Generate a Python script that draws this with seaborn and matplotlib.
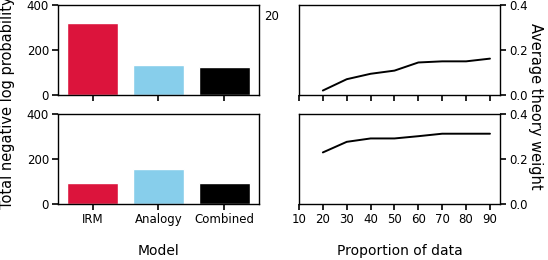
import matplotlib
matplotlib.use("Agg")
import matplotlib.pyplot as plt
import seaborn as sns
import pandas as pd

models = ["IRM", "Analogy", "Combined"]
bar_colors = ["#DC143C", "#87CEEB", "#000000"]
nll_top = [319, 135, 126]
nll_bottom = [95, 157, 95]

proportions = [20, 30, 40, 50, 60, 70, 80, 90]
weight_top = [0.022, 0.072, 0.096, 0.110, 0.146, 0.151, 0.151, 0.163]
weight_bottom = [0.230, 0.277, 0.292, 0.292, 0.302, 0.313, 0.313, 0.313]

sns.set_style("ticks")
plt.rcParams['font.family'] = ['DejaVu Sans']
plt.rcParams['xtick.labelsize'] = 8.5
plt.rcParams['ytick.labelsize'] = 8.5
plt.rcParams['text.color'] = 'black'
plt.rcParams['xtick.color'] = 'black'
plt.rcParams['ytick.color'] = 'black'
plt.rcParams['axes.edgecolor'] = 'black'

fig = plt.figure(figsize=(5.48, 2.6), dpi=100)
W = 0.3668
ax_tl = fig.add_axes([0.1058, 0.6327, W, 0.348])
ax_bl = fig.add_axes([0.1058, 0.2142, W, 0.347])
ax_tr = fig.add_axes([0.5456, 0.6327, W, 0.348])
ax_br = fig.add_axes([0.5456, 0.2142, W, 0.347])

for ax, vals in [(ax_tl, nll_top), (ax_bl, nll_bottom)]:
    df = pd.DataFrame({"Model": models, "v": vals})
    sns.barplot(data=df, x="Model", y="v", hue="Model", palette=bar_colors,
                legend=False, ax=ax, width=0.78, saturation=1)
    ax.set_ylim(0, 400)
    ax.set_yticks([0, 200, 400])
    ax.set_xlim(-0.53, 2.53)
    ax.set_xlabel("")
    ax.set_ylabel("")
ax_tl.set_xticklabels([])

for ax, vals in [(ax_tr, weight_top), (ax_br, weight_bottom)]:
    df = pd.DataFrame({"p": proportions, "w": vals})
    sns.lineplot(data=df, x="p", y="w", color="black", ax=ax, linewidth=1.4)
    ax.set_ylim(0, 0.4)
    ax.set_yticks([0.0, 0.2, 0.4])
    ax.yaxis.tick_right()
    ax.set_xlim(10, 94.2)
    ax.set_xticks(list(range(10, 100, 10)))
    ax.set_xlabel("")
    ax.set_ylabel("")
ax_tr.set_xticklabels([])

for ax in [ax_tl, ax_bl, ax_tr, ax_br]:
    for s in ax.spines.values():
        s.set_linewidth(1.0)
    ax.tick_params(length=4, width=1.2, pad=2.5)

fig.text(0.013, 0.605, "Total negative log probability", rotation=90,
         ha="center", va="center", fontsize=10.5)
fig.text(0.978, 0.59, "Average theory weight", rotation=270,
         ha="center", va="center", fontsize=10.5)
fig.text(0.289, 0.035, "Model", ha="center", va="center", fontsize=10)
fig.text(0.729, 0.035, "Proportion of data", ha="center", va="center", fontsize=10)
fig.text(0.496, 0.935, "20", ha="center", va="center", fontsize=8.5)

fig.savefig("out.png", dpi=100)
